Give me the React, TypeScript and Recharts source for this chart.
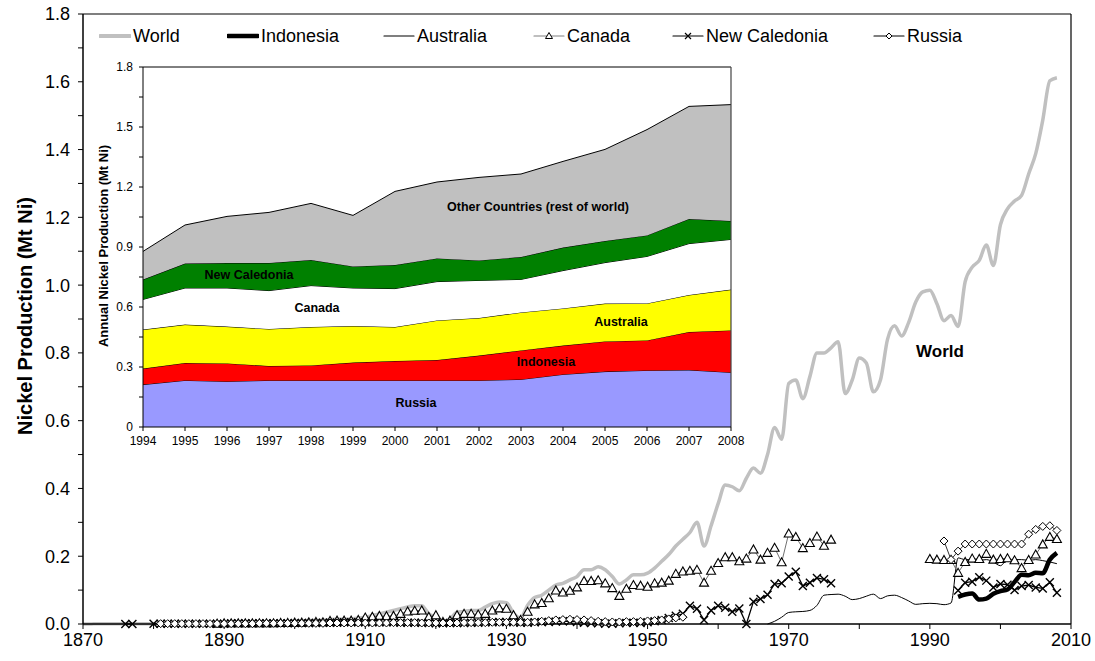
import { Area, AreaChart, Line, LineChart, ReferenceLine, XAxis, YAxis } from "recharts";

const FONT = "Arial, 'Liberation Sans', Helvetica, sans-serif";

// ---- main chart: annual production 1870-2008 (Mt Ni) ----
const firstYear = 1870;
const lastYear = 2008;

const worldValues = [
  0, 0, 0.001, 0.001, 0.001, 0.001, 0.001, 0.001, 0.001, 0.001,
  0.001, 0.001, 0.001, 0.001, 0.001, 0.001, 0.002, 0.002, 0.002, 0.002,
  0.003, 0.003, 0.003, 0.004, 0.004, 0.004, 0.004, 0.005, 0.006, 0.007,
  0.008, 0.009, 0.01, 0.01, 0.011, 0.013, 0.014, 0.014, 0.015, 0.018,
  0.02, 0.025, 0.03, 0.035, 0.04, 0.045, 0.05, 0.054, 0.054, 0.03,
  0.02, 0.008, 0.015, 0.035, 0.037, 0.04, 0.04, 0.05, 0.06, 0.065,
  0.063, 0.032, 0.018, 0.055, 0.078, 0.085, 0.1, 0.115, 0.12, 0.13,
  0.14, 0.16, 0.16, 0.169, 0.16, 0.14, 0.118, 0.13, 0.145, 0.145,
  0.15, 0.165, 0.185, 0.205, 0.23, 0.25, 0.27, 0.3, 0.23, 0.29,
  0.355, 0.41, 0.405, 0.393, 0.43, 0.46, 0.445, 0.5, 0.58, 0.545,
  0.71, 0.72, 0.665, 0.73, 0.8, 0.8, 0.815, 0.833, 0.68, 0.72,
  0.785, 0.77, 0.685, 0.72, 0.84, 0.88, 0.85, 0.89, 0.95, 0.98,
  0.985, 0.945, 0.895, 0.91, 0.878, 1.01, 1.053, 1.073, 1.118, 1.058,
  1.178, 1.225, 1.248, 1.265, 1.328, 1.388, 1.487, 1.603, 1.612,
];

// Canada 1889-1976, then 1990-2008
const canadaEarly = [
  0.001, 0.002, 0.002, 0.002, 0.002, 0.002, 0.002, 0.002, 0.002, 0.003, 0.003,
  0.004, 0.004, 0.005, 0.006, 0.005, 0.009, 0.01, 0.01, 0.01, 0.012,
  0.019, 0.021, 0.024, 0.023, 0.024, 0.03, 0.037, 0.039, 0.04, 0.021,
  0.026, 0.006, 0.01, 0.026, 0.03, 0.03, 0.028, 0.03, 0.04, 0.046,
  0.045, 0.026, 0.012, 0.036, 0.058, 0.062, 0.076, 0.099, 0.093, 0.098,
  0.108, 0.127, 0.127, 0.129, 0.12, 0.106, 0.083, 0.104, 0.115, 0.113,
  0.11, 0.12, 0.122, 0.128, 0.148, 0.155, 0.157, 0.16, 0.122, 0.157,
  0.18, 0.197, 0.197, 0.185, 0.193, 0.22, 0.19, 0.21, 0.225, 0.182,
  0.267, 0.257, 0.224, 0.239, 0.258, 0.231, 0.249,
];
const canadaLate = [
  0.192, 0.19, 0.189, 0.189, 0.151, 0.183, 0.193, 0.192, 0.207, 0.19,
  0.192, 0.194, 0.188, 0.165, 0.189, 0.205, 0.235, 0.257, 0.251,
];

// New Caledonia 1876-1877, 1880-1976, 1994-2008
const newCaledoniaFirst = [0, 0];
const newCaledoniaEarly = [
  0.001, 0.001, 0.001, 0.001, 0.001, 0.001, 0.001, 0.001, 0.001, 0.001,
  0.001, 0.002, 0.002, 0.002, 0.002, 0.002, 0.002, 0.002, 0.002, 0.002,
  0.003, 0.003, 0.003, 0.003, 0.004, 0.004, 0.004, 0.005, 0.005, 0.005,
  0.005, 0.005, 0.005, 0.005, 0.005, 0.004, 0.004, 0.004, 0.004, 0.003,
  0.002, 0.002, 0.003, 0.003, 0.003, 0.004, 0.004, 0.005, 0.005, 0.006,
  0.006, 0.005, 0.004, 0.004, 0.005, 0.006, 0.006, 0.007, 0.008, 0.008,
  0.006, 0.004, 0.003, 0.002, 0.001, 0.001, 0.002, 0.003, 0.004,
  0.003, 0.005, 0.008, 0.012, 0.018, 0.024, 0.03, 0.054, 0.045, 0.012,
  0.04, 0.054, 0.048, 0.036, 0.046, 0, 0.066, 0.074, 0.086, 0.118,
  0.12, 0.14, 0.154, 0.112, 0.122, 0.136, 0.132, 0.12,
];
const newCaledoniaLate = [
  0.099, 0.122, 0.125, 0.138, 0.128, 0.108, 0.118, 0.116, 0.1, 0.112,
  0.115, 0.108, 0.105, 0.123, 0.092,
];

// Russia 1881-1955, 1992-2008
const russiaEarly = [
  0.001, 0.001, 0.001, 0.001, 0.001, 0.001, 0.001, 0.001, 0.001, 0.001,
  0.001, 0.001, 0.001, 0.001, 0.002, 0.002, 0.002, 0.002, 0.002, 0.002,
  0.002, 0.002, 0.002, 0.002, 0.003, 0.003, 0.003, 0.003, 0.003, 0.003,
  0.003, 0.003, 0.003, 0.004, 0.004, 0.004, 0.004, 0.003, 0.003, 0.003,
  0.003, 0.003, 0.003, 0.004, 0.004, 0.004, 0.004, 0.005, 0.005, 0.005,
  0.005, 0.005, 0.005, 0.006, 0.008, 0.01, 0.012, 0.013, 0.014, 0.013,
  0.012, 0.01, 0.008, 0.007, 0.006, 0.006, 0.007, 0.007, 0.008, 0.009,
  0.01, 0.012, 0.015, 0.018, 0.02,
];
const russiaLate = [
  0.245, 0.19, 0.215, 0.236, 0.236, 0.236, 0.236, 0.236, 0.236, 0.236,
  0.236, 0.236, 0.265, 0.279, 0.288, 0.29, 0.276,
];

// Australia 1967-2008
const australiaValues = [
  0, 0.008, 0.02, 0.034, 0.036, 0.037, 0.04, 0.055, 0.085, 0.087,
  0.088, 0.082, 0.072, 0.075, 0.082, 0.088, 0.075, 0.083, 0.085, 0.078,
  0.068, 0.058, 0.06, 0.061, 0.06, 0.057, 0.062, 0.195, 0.19, 0.19,
  0.188, 0.19, 0.183, 0.172, 0.19, 0.19, 0.19, 0.188, 0.19, 0.187,
  0.183, 0.178,
];

const mainXTicks = [1870, 1880, 1890, 1900, 1910, 1920, 1930, 1940, 1950, 1960, 1970, 1980, 1990, 2000, 2010];
const mainYTicks = [0, 0.1, 0.2, 0.3, 0.4, 0.5, 0.6, 0.7, 0.8, 0.9, 1, 1.1, 1.2, 1.3, 1.4, 1.5, 1.6, 1.7, 1.8];

// ---- inset: stacked production by country 1994-2008 ----
const insetYears = [1994, 1995, 1996, 1997, 1998, 1999, 2000, 2001, 2002, 2003, 2004, 2005, 2006, 2007, 2008];
const insetRussia = [0.212, 0.233, 0.228, 0.233, 0.233, 0.233, 0.233, 0.233, 0.233, 0.238, 0.263, 0.277, 0.283, 0.285, 0.273];
const insetIndonesia = [0.08, 0.087, 0.09, 0.072, 0.075, 0.089, 0.097, 0.102, 0.124, 0.145, 0.144, 0.151, 0.15, 0.19, 0.21];
const insetAustralia = [0.195, 0.192, 0.184, 0.185, 0.192, 0.183, 0.17, 0.198, 0.188, 0.19, 0.186, 0.189, 0.185, 0.185, 0.204];
const insetCanada = [0.151, 0.183, 0.193, 0.192, 0.207, 0.19, 0.192, 0.194, 0.188, 0.165, 0.189, 0.205, 0.235, 0.257, 0.251];
const insetNewCaledonia = [0.099, 0.122, 0.125, 0.138, 0.128, 0.108, 0.118, 0.116, 0.1, 0.112, 0.115, 0.108, 0.105, 0.123, 0.092];
const insetOthers = [0.141, 0.193, 0.233, 0.253, 0.283, 0.255, 0.368, 0.382, 0.415, 0.415, 0.431, 0.458, 0.529, 0.563, 0.582];
const insetYTicks = [0, 0.15, 0.3, 0.45, 0.6, 0.75, 0.9, 1.05, 1.2, 1.35, 1.5, 1.65, 1.8];

// build tables
const mainRows: Array<Record<string, number | null>> = [];
for (let y = firstYear; y <= lastYear; y++) {
  mainRows.push({ year: y, world: null, indonesia: null, australia: null, canada: null, newCaledonia: null, russia: null });
}
const place = (key: string, start: number, values: number[]) => {
  values.forEach((v, i) => {
    mainRows[start - firstYear + i][key] = v;
  });
};
place("world", 1870, worldValues);
place("canada", 1889, canadaEarly);
place("canada", 1990, canadaLate);
place("newCaledonia", 1876, newCaledoniaFirst);
place("newCaledonia", 1880, newCaledoniaEarly);
place("newCaledonia", 1994, newCaledoniaLate);
place("russia", 1881, russiaEarly);
place("russia", 1992, russiaLate);
place("australia", 1967, australiaValues);
place("indonesia", 1994, insetIndonesia);

const insetRows = insetYears.map((year, i) => ({
  year,
  russia: insetRussia[i],
  indonesia: insetIndonesia[i],
  australia: insetAustralia[i],
  canada: insetCanada[i],
  newCaledonia: insetNewCaledonia[i],
  others: insetOthers[i],
}));

// markers
const emptyDot = (key: string) => <g key={key} />;

const triangleDot = (props: any) => {
  const { cx, cy, index, value } = props;
  if (value == null || cx == null || cy == null) return emptyDot(`t-${index}`);
  return (
    <polygon
      key={`t-${index}`}
      points={`${cx},${cy - 4.5} ${cx - 4.5},${cy + 3.5} ${cx + 4.5},${cy + 3.5}`}
      fill="#fff"
      stroke="#000"
      strokeWidth={1.1}
    />
  );
};

const crossDot = (props: any) => {
  const { cx, cy, index, value } = props;
  if (value == null || cx == null || cy == null) return emptyDot(`x-${index}`);
  return (
    <path
      key={`x-${index}`}
      d={`M${cx - 4},${cy - 4}L${cx + 4},${cy + 4}M${cx - 4},${cy + 4}L${cx + 4},${cy - 4}`}
      stroke="#000"
      strokeWidth={1.4}
    />
  );
};

const diamondDot = (props: any) => {
  const { cx, cy, index, value } = props;
  if (value == null || cx == null || cy == null) return emptyDot(`d-${index}`);
  return (
    <polygon
      key={`d-${index}`}
      points={`${cx},${cy - 4} ${cx + 4},${cy} ${cx},${cy + 4} ${cx - 4},${cy}`}
      fill="#fff"
      stroke="#000"
      strokeWidth={1}
    />
  );
};

const legendItems = [
  { name: "World", left: 99, stroke: "#C0C0C0", width: 4, marker: "" },
  { name: "Indonesia", left: 227, stroke: "#000", width: 4.5, marker: "" },
  { name: "Australia", left: 383, stroke: "#000", width: 1.2, marker: "" },
  { name: "Canada", left: 533, stroke: "#808080", width: 1.2, marker: "triangle" },
  { name: "New Caledonia", left: 672, stroke: "#000", width: 1.2, marker: "cross" },
  { name: "Russia", left: 873, stroke: "#000", width: 1.2, marker: "diamond" },
];

function LegendRow() {
  return (
    <>
      {legendItems.map((item) => (
        <div
          key={item.name}
          style={{ position: "absolute", left: item.left, top: 26, height: 20, display: "flex", alignItems: "center" }}
        >
          <svg width={32} height={14}>
            <line x1={1} x2={31} y1={7} y2={7} stroke={item.stroke} strokeWidth={item.width} strokeLinecap="round" />
            {item.marker === "triangle" && (
              <polygon points="16,3.5 12.5,9.5 19.5,9.5" fill="#fff" stroke="#000" strokeWidth={1} />
            )}
            {item.marker === "cross" && (
              <path d="M13,4L19,10M13,10L19,4" stroke="#000" strokeWidth={1.2} />
            )}
            {item.marker === "diamond" && (
              <polygon points="16,4 19,7 16,10 13,7" fill="#fff" stroke="#000" strokeWidth={1} />
            )}
          </svg>
          <span style={{ marginLeft: 2, fontSize: 18, color: "#000", whiteSpace: "nowrap" }}>{item.name}</span>
        </div>
      ))}
    </>
  );
}

const centered = (x: number, y: number, extra: React.CSSProperties = {}): React.CSSProperties => ({
  position: "absolute",
  left: x,
  top: y,
  transform: "translate(-50%, -50%)",
  whiteSpace: "nowrap",
  fontWeight: "bold",
  color: "#000",
  ...extra,
});

const insetLabels = [
  { text: "Other Countries (rest of world)", x: 538, y: 207 },
  { text: "New Caledonia", x: 249, y: 275 },
  { text: "Canada", x: 317, y: 308 },
  { text: "Australia", x: 621, y: 322 },
  { text: "Indonesia", x: 546, y: 362 },
  { text: "Russia", x: 416, y: 403 },
];

export default function App() {
  const mainTick = { fill: "#000", fontSize: 18, fontFamily: FONT };
  const insetTick = { fill: "#000", fontSize: 12, fontFamily: FONT };

  return (
    <div
      style={{
        position: "absolute",
        left: 0,
        top: 0,
        width: 1095,
        height: 661,
        background: "#fff",
        fontFamily: FONT,
        overflow: "hidden",
      }}
    >
      <LineChart width={1095} height={661} data={mainRows} margin={{ top: 14, right: 24, bottom: 7, left: 0 }}>
        <XAxis
          dataKey="year"
          type="number"
          domain={[1870, 2010]}
          ticks={mainXTicks}
          interval={0}
          height={30}
          tickSize={5}
          tickMargin={4}
          axisLine={{ stroke: "#000", strokeWidth: 1.5 }}
          tickLine={{ stroke: "#000" }}
          tick={mainTick}
          tickFormatter={(v: number) => ((v - 1870) % 20 === 0 ? String(v) : "")}
        />
        <YAxis
          type="number"
          domain={[0, 1.8]}
          ticks={mainYTicks}
          interval={0}
          width={83}
          tickSize={5}
          tickMargin={8}
          axisLine={{ stroke: "#000", strokeWidth: 1.5 }}
          tickLine={{ stroke: "#000" }}
          tick={mainTick}
          tickFormatter={(v: number) => (Math.round(v * 10) % 2 === 0 ? v.toFixed(1) : "")}
        />
        <ReferenceLine y={1.8} stroke="#000" strokeWidth={1.2} />
        <ReferenceLine x={2010} stroke="#000" strokeWidth={1.2} />
        <Line
          dataKey="world"
          type="monotone"
          stroke="#C0C0C0"
          strokeWidth={3.5}
          dot={false}
          activeDot={false}
          isAnimationActive={false}
        />
        <Line
          dataKey="australia"
          type="monotone"
          stroke="#000"
          strokeWidth={1}
          dot={false}
          activeDot={false}
          isAnimationActive={false}
        />
        <Line
          dataKey="canada"
          type="linear"
          stroke="#707070"
          strokeWidth={1}
          dot={triangleDot}
          activeDot={false}
          isAnimationActive={false}
        />
        <Line
          dataKey="newCaledonia"
          type="linear"
          stroke="#000"
          strokeWidth={1.3}
          dot={crossDot}
          activeDot={false}
          isAnimationActive={false}
        />
        <Line
          dataKey="russia"
          type="linear"
          stroke="#333"
          strokeWidth={1}
          dot={diamondDot}
          activeDot={false}
          isAnimationActive={false}
        />
        <Line
          dataKey="indonesia"
          type="monotone"
          stroke="#000"
          strokeWidth={4.5}
          dot={false}
          activeDot={false}
          isAnimationActive={false}
        />
      </LineChart>

      <LegendRow />

      <div style={centered(25, 316, { fontSize: 20, transform: "translate(-50%, -50%) rotate(-90deg)" })}>
        Nickel Production (Mt Ni)
      </div>
      <div style={centered(940, 352, { fontSize: 17 })}>World</div>

      <div style={{ position: "absolute", left: 90, top: 55, width: 660, height: 415 }}>
        <AreaChart width={660} height={415} data={insetRows} margin={{ top: 12, right: 19, bottom: 18, left: 0 }}>
          <XAxis
            dataKey="year"
            interval={0}
            height={25}
            tickSize={4}
            tickMargin={5}
            axisLine={{ stroke: "#000" }}
            tickLine={{ stroke: "#000" }}
            tick={insetTick}
          />
          <YAxis
            type="number"
            domain={[0, 1.8]}
            ticks={insetYTicks}
            interval={0}
            width={53}
            tickSize={4}
            tickMargin={6}
            axisLine={{ stroke: "#000" }}
            tickLine={{ stroke: "#000" }}
            tick={insetTick}
            tickFormatter={(v: number) => (Math.round(v * 100) % 30 === 0 ? String(Number(v.toFixed(2))) : "")}
          />
          <Area dataKey="russia" stackId="n" type="linear" fill="#9999FF" fillOpacity={1} stroke="#000" strokeWidth={1} isAnimationActive={false} />
          <Area dataKey="indonesia" stackId="n" type="linear" fill="#FF0000" fillOpacity={1} stroke="#000" strokeWidth={1} isAnimationActive={false} />
          <Area dataKey="australia" stackId="n" type="linear" fill="#FFFF00" fillOpacity={1} stroke="#000" strokeWidth={1} isAnimationActive={false} />
          <Area dataKey="canada" stackId="n" type="linear" fill="#FFFFFF" fillOpacity={1} stroke="#000" strokeWidth={1} isAnimationActive={false} />
          <Area dataKey="newCaledonia" stackId="n" type="linear" fill="#008000" fillOpacity={1} stroke="#000" strokeWidth={1} isAnimationActive={false} />
          <Area dataKey="others" stackId="n" type="linear" fill="#C0C0C0" fillOpacity={1} stroke="#000" strokeWidth={1} isAnimationActive={false} />
          <ReferenceLine y={1.8} stroke="#000" strokeWidth={1} />
          <ReferenceLine x={2008} stroke="#444" strokeWidth={1.2} />
        </AreaChart>
      </div>

      <div style={centered(103, 246, { fontSize: 13, transform: "translate(-50%, -50%) rotate(-90deg)" })}>
        Annual Nickel Production (Mt Ni)
      </div>
      {insetLabels.map((l) => (
        <div key={l.text} style={centered(l.x, l.y, { fontSize: 12.5 })}>
          {l.text}
        </div>
      ))}
    </div>
  );
}
